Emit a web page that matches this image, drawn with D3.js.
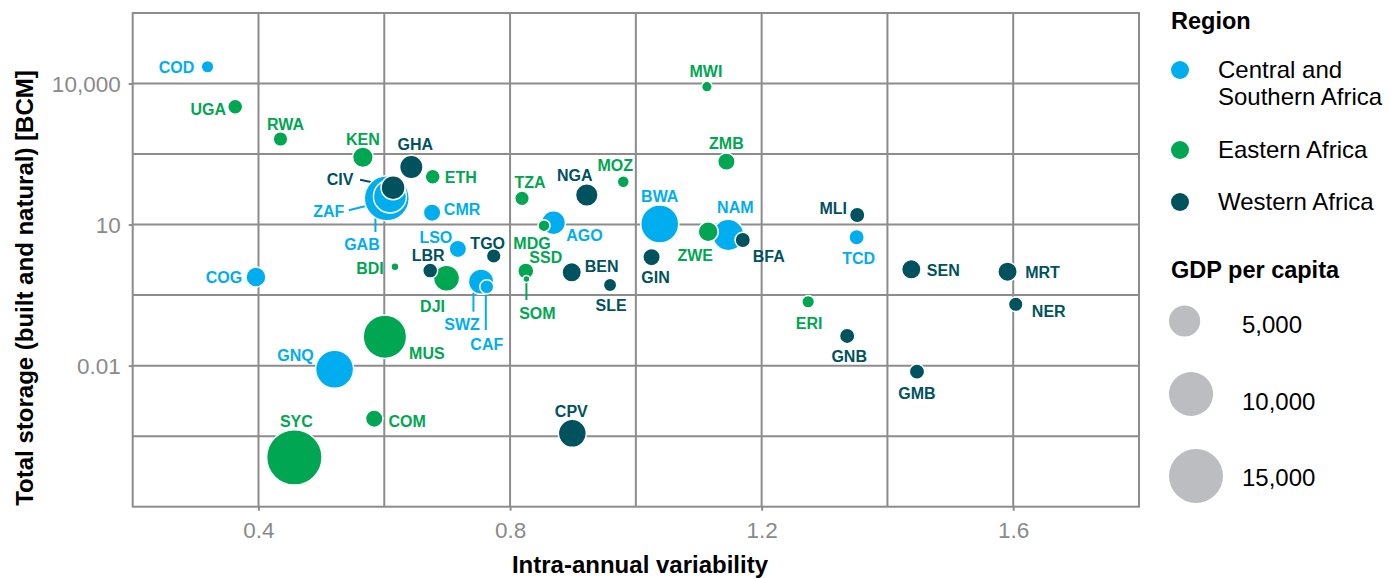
<!DOCTYPE html>
<html>
<head>
<meta charset="utf-8">
<script src="https://cdn.jsdelivr.net/npm/d3@7"></script>
<style>
  body { margin: 0; background: #fff; }
  svg { font-family: "Liberation Sans", Arial, sans-serif; display: block; }
</style>
</head>
<body>
<div id="chart"></div>
<script>
// ── Data ──
const codes = ['COD', 'UGA', 'RWA', 'KEN', 'GHA', 'ETH', 'CIV', 'ZAF', 'GAB', 'CMR',
  'TZA', 'NGA', 'MOZ', 'AGO', 'MDG', 'LSO', 'TGO', 'BDI', 'LBR', 'DJI',
  'SWZ', 'CAF', 'SSD', 'SOM', 'BEN', 'SLE', 'MUS', 'BWA', 'ZWE', 'NAM',
  'BFA', 'GIN', 'ZMB', 'MWI', 'MLI', 'TCD', 'ERI', 'SEN', 'MRT', 'NER',
  'GNB', 'GMB', 'GNQ', 'COM', 'SYC', 'CPV', 'COG'];
const regionOf = ['C', 'E', 'E', 'E', 'W', 'E', 'W', 'C', 'C', 'C',
  'E', 'W', 'E', 'C', 'E', 'C', 'W', 'E', 'W', 'E',
  'C', 'C', 'E', 'E', 'W', 'W', 'E', 'C', 'E', 'C',
  'W', 'W', 'E', 'E', 'W', 'C', 'E', 'W', 'W', 'W',
  'W', 'W', 'C', 'E', 'E', 'W', 'C'];
const variability = [0.319, 0.363, 0.435, 0.566, 0.643, 0.677, 0.614, 0.604, 0.609, 0.676,
  0.819, 0.922, 0.980, 0.869, 0.854, 0.717, 0.774, 0.617, 0.673, 0.699,
  0.754, 0.763, 0.825, 0.826, 0.898, 0.959, 0.601, 1.038, 1.115, 1.147,
  1.170, 1.025, 1.144, 1.113, 1.352, 1.351, 1.274, 1.438, 1.591, 1.604,
  1.336, 1.447, 0.521, 0.584, 0.457, 0.899, 0.396];
const storage = [22800, 3210, 661, 270, 168, 104, 61, 36.2, 39.6, 17.9,
  36.2, 42.7, 81.7, 11.0, 9.5, 3.03, 2.15, 1.27, 1.05, 0.721,
  0.611, 0.477, 1.03, 0.697, 0.967, 0.519, 0.0413, 10.3, 7.06, 6.01,
  4.70, 2.02, 218, 8570, 16.0, 5.37, 0.229, 1.12, 0.996, 0.202,
  0.0428, 0.00745, 0.00838, 0.000745, 0.000112, 0.000364, 0.769];
const gdp = [820, 1160, 1100, 2180, 2820, 1160, 2960, 10400, 5600, 1560,
  1100, 2630, 740, 2960, 740, 1560, 1100, 330, 1160, 3480,
  3320, 1010, 1320, 250, 1940, 920, 9690, 7430, 2060, 5070,
  1220, 1560, 1560, 580, 1220, 1220, 820, 1940, 1940, 1100,
  1220, 1220, 7430, 1560, 15800, 4030, 2060];

const regionKeys = ['C', 'E', 'W'];
const regionNames = [['Central and', 'Southern Africa'], ['Eastern Africa'], ['Western Africa']];
const regionColors = ['#00AEEF', '#00A651', '#00525E'];
const sizeBreaks = [5000, 10000, 15000];
const xTicks = [0.4, 0.8, 1.2, 1.6];
const xMinor = [0.6, 1.0, 1.4];
const yTicks = [1e4, 10, 0.01];
const yMinor = [Math.pow(10, 2.5), Math.pow(10, -0.5), Math.pow(10, -3.5)];

// label placement (px offset of label centre from the point), like ggrepel output
const labelPos = {
  COD: [-31, 1], UGA: [-27, 2], RWA: [5, -15], KEN: [0, -18], GHA: [4, -23],
  ETH: [28, 0], CIV: [-53, -8], ZAF: [-58, 13], GAB: [-28, 48], CMR: [30, -3],
  TZA: [8, -16], NGA: [-12, -20], MOZ: [-8, -16], BWA: [0, -28], AGO: [31, 13],
  MDG: [-12, 18], SSD: [20, -14], LSO: [-22, -12], TGO: [-6, -13], LBR: [-2, -15],
  BDI: [-25, 1], DJI: [-14, 28], SWZ: [-19, 43], CAF: [0, 57], SOM: [11, 34],
  BEN: [30, -6], SLE: [1, 20], GIN: [4, 20], MUS: [42, 17], GNQ: [-39, -14],
  SYC: [2, -36], COM: [33, 3], CPV: [-1, -22], COG: [-32, 0], MWI: [-1, -15],
  ZMB: [0, -18], NAM: [7, -28], ZWE: [-13, 24], BFA: [26, 16], MLI: [-24, -7],
  TCD: [2, 21], ERI: [1, 21], SEN: [32, 1], MRT: [35, 1], NER: [33, 7],
  GNB: [2, 20], GMB: [0, 22]
};
// leader segments [dx1, dy1, dx2, dy2] relative to the point
const segments = {
  CIV: [-33, -8, -9, -3], ZAF: [-38, 12, -22, 8], GAB: [-14.5, 35.5, -14.5, 20.5],
  SWZ: [-7.7, 30, -7.7, 11.3], CAF: [-1, 43.3, -1, 6.5], SOM: [0, 21, 0, 3]
};

const W = 1399, H = 578;
const P = { left: 132.7, right: 1139, top: 13, bottom: 506.7 };
const GRID = '#8c8c8c';

const svg = d3.select('#chart').append('svg')
  .attr('width', W).attr('height', H)
  .attr('viewBox', `0 0 ${W} ${H}`);

svg.append('rect').attr('width', W).attr('height', H).attr('fill', '#fff');

const x = d3.scaleLinear().domain([0.2, 1.8]).range([P.left, P.right]);
const y = d3.scaleLog().domain([1e-5, Math.pow(10, 5.5)]).range([P.bottom, P.top]);
const r = d3.scaleSqrt().domain([0, 15000]).range([0, 27]);
const color = d3.scaleOrdinal().domain(regionKeys).range(regionColors);

const data = codes.map((c, i) => ({
  code: c, region: regionOf[i], v: variability[i], s: storage[i], gdp: gdp[i]
}));

// ── Grid ──
const grid = svg.append('g');
grid.selectAll('.gx').data(xTicks.concat(xMinor)).enter().append('line')
  .attr('x1', d => x(d)).attr('x2', d => x(d))
  .attr('y1', P.top).attr('y2', P.bottom)
  .attr('stroke', GRID).attr('stroke-width', 2);
grid.selectAll('.gy').data(yTicks.concat(yMinor)).enter().append('line')
  .attr('y1', d => y(d)).attr('y2', d => y(d))
  .attr('x1', P.left).attr('x2', P.right)
  .attr('stroke', GRID).attr('stroke-width', 2);
svg.append('rect')
  .attr('x', P.left).attr('y', P.top)
  .attr('width', P.right - P.left).attr('height', P.bottom - P.top)
  .attr('fill', 'none').attr('stroke', GRID).attr('stroke-width', 2);

// ── Axes ──
const xAxis = svg.append('g')
  .attr('transform', `translate(0,${P.bottom})`)
  .call(d3.axisBottom(x).tickValues(xTicks).tickSize(4).tickPadding(11).tickFormat(d3.format('.1f')));
const yAxis = svg.append('g')
  .attr('transform', `translate(${P.left},0)`)
  .call(d3.axisLeft(y).tickValues(yTicks).tickSize(4).tickPadding(8)
    .tickFormat(d => d >= 1 ? d3.format(',')(d) : String(d)));
[xAxis, yAxis].forEach(a => {
  a.select('.domain').remove();
  a.selectAll('line').attr('stroke', GRID).attr('stroke-width', 2);
  a.selectAll('text').attr('fill', '#8a8a8a').attr('font-size', '22.5px')
    .attr('font-family', '"Liberation Sans", Arial, sans-serif');
});
yAxis.selectAll('text').attr('dy', '0.36em');

svg.append('text')
  .attr('x', 640).attr('y', 573)
  .attr('text-anchor', 'middle').attr('font-size', '24px').attr('font-weight', 700)
  .attr('fill', '#000').text('Intra-annual variability');
svg.append('text')
  .attr('transform', 'translate(33,288) rotate(-90)')
  .attr('text-anchor', 'middle').attr('font-size', '24px').attr('font-weight', 700)
  .attr('fill', '#000').text('Total storage (built and natural) [BCM]');

// ── Leader segments ──
const pts = svg.append('g');
pts.selectAll('.seg').data(data.filter(d => segments[d.code])).enter().append('line')
  .attr('x1', d => x(d.v) + segments[d.code][0]).attr('y1', d => y(d.s) + segments[d.code][1])
  .attr('x2', d => x(d.v) + segments[d.code][2]).attr('y2', d => y(d.s) + segments[d.code][3])
  .attr('stroke', d => color(d.region)).attr('stroke-width', 2);

// ── Bubbles (large first so small ones stay visible) ──
pts.selectAll('circle').data(data.slice().sort((a, b) => b.gdp - a.gdp)).enter().append('circle')
  .attr('cx', d => x(d.v)).attr('cy', d => y(d.s))
  .attr('r', d => r(d.gdp))
  .attr('fill', d => color(d.region))
  .attr('stroke', '#fff').attr('stroke-width', 1.5);

// ── Labels ──
pts.selectAll('.lab').data(data).enter().append('text')
  .attr('x', d => x(d.v) + labelPos[d.code][0])
  .attr('y', d => y(d.s) + labelPos[d.code][1] + 5.8)
  .attr('text-anchor', 'middle')
  .attr('font-size', '16px').attr('font-weight', 700)
  .attr('fill', d => color(d.region))
  .text(d => d.code);

// ── Legend: region ──
const lg = svg.append('g');
lg.append('text').attr('x', 1171).attr('y', 29).attr('font-size', '23.5px')
  .attr('font-weight', 700).attr('fill', '#000').text('Region');
const keyY = [70, 150, 202];
regionKeys.forEach((k, i) => {
  lg.append('circle').attr('cx', 1180).attr('cy', keyY[i]).attr('r', 9)
    .attr('fill', regionColors[i]);
  const t = lg.append('text').attr('x', 1218).attr('y', keyY[i] + 8)
    .attr('font-size', '24px').attr('fill', '#000');
  regionNames[i].forEach((line, j) => {
    t.append('tspan').attr('x', 1218).attr('dy', j === 0 ? 0 : 27).text(line);
  });
});

// ── Legend: GDP per capita ──
lg.append('text').attr('x', 1171).attr('y', 278).attr('font-size', '23.5px')
  .attr('font-weight', 700).attr('fill', '#000').text('GDP per capita');
const sizeY = [321, 394, 476];
const sizeTextY = [325, 402, 478];
sizeBreaks.forEach((b, i) => {
  lg.append('circle').attr('cx', 1169 + r(b)).attr('cy', sizeY[i]).attr('r', r(b))
    .attr('fill', '#bcbdc0');
  lg.append('text').attr('x', 1242).attr('y', sizeTextY[i] + 8)
    .attr('font-size', '24px').attr('fill', '#000').text(d3.format(',')(b));
});
</script>
</body>
</html>
